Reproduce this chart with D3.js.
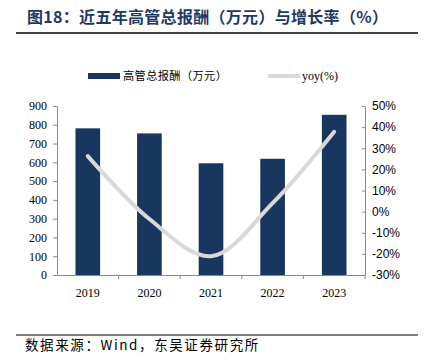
<!DOCTYPE html>
<html><head><meta charset="utf-8">
<script src="https://cdn.jsdelivr.net/npm/d3@7"></script>
<style>body{margin:0;background:#fff}svg{display:block}</style>
</head><body>
<script>
const categories = ["2019","2020","2021","2022","2023"];
const compensation = [781, 754, 595, 619, 853];
const yoy = [26.3, -3.5, -21.1, 4.0, 37.8];
const leftTicks = [0,100,200,300,400,500,600,700,800,900];
const rightTicks = [-30,-20,-10,0,10,20,30,40,50];
const titleText = "图18：近五年高管总报酬（万元）与增长率（%）";
const barLabel = "高管总报酬（万元）";
const lineLabel = "yoy(%)";
const sourceText = "数据来源：Wind，东吴证券研究所";

const W=425,H=360;
const svg=d3.select("body").append("svg").attr("width",W).attr("height",H);
const serif="'Liberation Serif','Times New Roman',serif";
const sans="'Liberation Sans',Arial,sans-serif";
const cjk="'Noto Sans CJK SC',sans-serif";
const navy="#17375e";

// title
svg.append("text").attr("x",27).attr("y",23).attr("font-family",cjk).attr("font-weight","bold")
  .attr("font-size",16).attr("letter-spacing",0.3).attr("fill","#1f3864").text(titleText);
svg.append("line").attr("x1",16).attr("x2",418).attr("y1",33).attr("y2",33).attr("stroke","#000").attr("stroke-width",1.5);

const L=57,R=365,T=106,B=275;
const x=d3.scaleBand().domain(categories).range([L,R]).paddingInner(0.6).paddingOuter(0.3);
const xb=d3.scaleBand().domain(categories).range([L,R]);
const yL=d3.scaleLinear().domain([0,900]).range([B,T]);
const yR=d3.scaleLinear().domain([-30,50]).range([B,T]);

// bars
svg.append("g").selectAll("rect").data(categories).join("rect")
  .attr("x",d=>x(d)).attr("width",x.bandwidth())
  .attr("y",(d,i)=>yL(compensation[i])).attr("height",(d,i)=>B-yL(compensation[i]))
  .attr("fill",navy);

// axes
const axColor="#898989";
const gL=svg.append("g").attr("transform",`translate(${L},0)`)
  .call(d3.axisLeft(yL).tickValues(leftTicks).tickSize(4).tickSizeOuter(0));
gL.selectAll("text").attr("font-family",serif).attr("font-size",12).attr("fill","#000").attr("dx","-3");
const gR=svg.append("g").attr("transform",`translate(${R},0)`)
  .call(d3.axisRight(yR).tickValues(rightTicks).tickSize(0).tickSizeOuter(0).tickFormat(d=>d+"%"));
gR.selectAll(".tick line").attr("x1",-3).attr("x2",0);
gR.selectAll("text").attr("font-family",sans).attr("font-size",12).attr("fill","#000").attr("x",7);
const gB=svg.append("g").attr("transform",`translate(0,${B})`)
  .call(d3.axisBottom(xb).tickSize(0).tickSizeOuter(0));
gB.selectAll("text").attr("font-family",serif).attr("font-size",12).attr("fill","#000").attr("dy","1.6em");
// category boundary ticks
gB.append("g").selectAll("line").data(categories.slice(1).concat(["end"])).join("line")
  .attr("x1",(d,i)=>i<4?xb(d):R).attr("x2",(d,i)=>i<4?xb(d):R).attr("y1",0).attr("y2",4)
  .attr("stroke",axColor);
[gL,gR,gB].forEach(g=>{g.selectAll("path,line").attr("stroke",axColor);g.select(".domain").attr("stroke",axColor);});

// line
const line=d3.line().x((d,i)=>x(categories[i])+x.bandwidth()/2).y(d=>yR(d)).curve(d3.curveCatmullRom.alpha(0.5));
svg.append("path").datum(yoy).attr("d",line).attr("fill","none").attr("stroke","#d9d9d9")
  .attr("stroke-width",4).attr("stroke-linecap","round");

// legend
svg.append("rect").attr("x",88).attr("y",73).attr("width",32).attr("height",6).attr("fill",navy);
svg.append("text").attr("x",123).attr("y",80).attr("font-family",cjk).attr("font-size",11.2).attr("letter-spacing",0.4).attr("fill","#000").text(barLabel);
svg.append("line").attr("x1",268).attr("x2",300).attr("y1",76).attr("y2",76).attr("stroke","#d9d9d9").attr("stroke-width",4);
svg.append("text").attr("x",302).attr("y",80).attr("font-family",serif).attr("font-size",12).attr("fill","#000").text(lineLabel);

// footer
svg.append("line").attr("x1",16).attr("x2",418).attr("y1",335).attr("y2",335).attr("stroke","#000").attr("stroke-width",1.2);
svg.append("text").attr("x",25).attr("y",350).attr("font-family",cjk).attr("font-size",13.5).attr("letter-spacing",1.6).attr("fill","#000").text(sourceText);
</script>
</body></html>
